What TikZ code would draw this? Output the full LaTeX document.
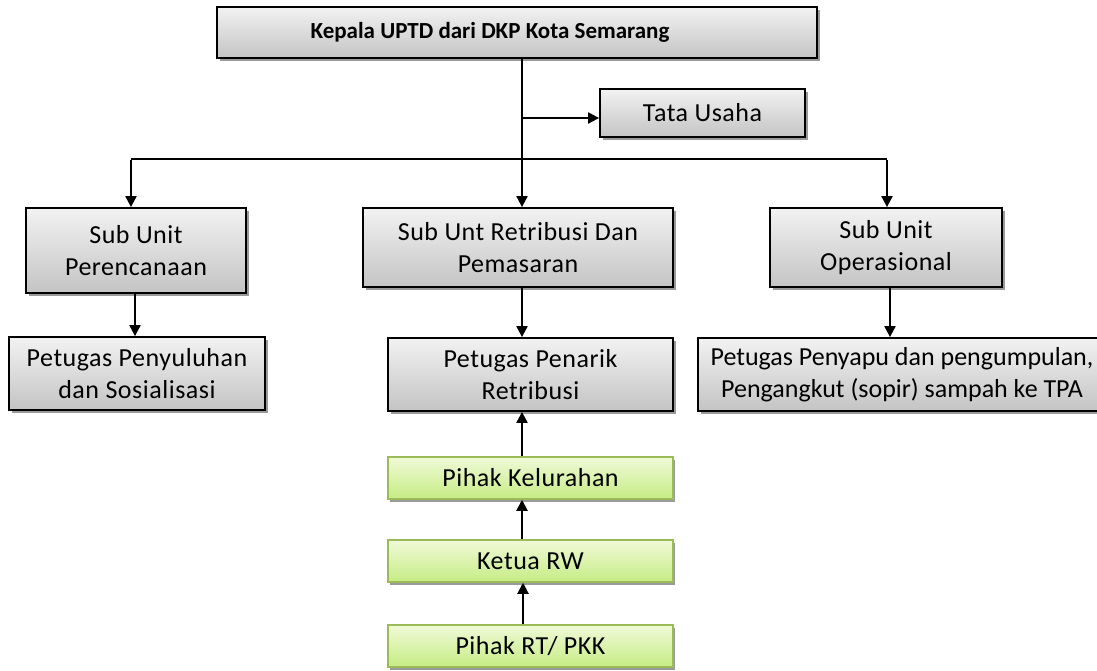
\documentclass[tikz,border=0pt]{standalone}
\usepackage{fontspec}
\setmainfont{Carlito}[LetterSpace=2]
\newfontfamily\titlefont{Carlito}
\usetikzlibrary{arrows.meta,shadows}
\definecolor{gtop}{HTML}{F2F2F2}
\definecolor{gbot}{HTML}{C4C4C4}
\definecolor{ltop}{HTML}{F0FAD8}
\definecolor{lbot}{HTML}{C6EC84}
\definecolor{lborder}{HTML}{9BBB59}
\definecolor{shd}{HTML}{9A9A9A}
\begin{document}
\begin{tikzpicture}[x=1pt,y=-1pt,
  graybox/.style={draw=black,line width=1.8pt,rectangle,align=center,inner sep=0pt,
    top color=gtop,bottom color=gbot,
    general shadow={fill=shd,shadow xshift=3pt,shadow yshift=-3pt},
    font=\fontsize{26}{32}\selectfont},
  greenbox/.style={draw=lborder,line width=1.5pt,rectangle,align=center,inner sep=0pt,
    top color=ltop,bottom color=lbot,
    general shadow={fill=shd,shadow xshift=2pt,shadow yshift=-3pt},
    font=\fontsize{26}{30}\selectfont,minimum width=285pt,minimum height=42pt},
  conn/.style={line width=2pt,-{Triangle[length=11pt,width=11pt]}},
  plain/.style={line width=2pt}]
\useasboundingbox (0,0) rectangle (1097,671);
\begin{scope}
\clip (0,0) rectangle (1097,671);
\node[graybox,minimum width=600pt,minimum height=51pt,font=\titlefont\fontsize{23}{28}\selectfont\bfseries] (top) at (517,32.5) {Kepala UPTD dari DKP Kota Semarang\hspace*{54pt}};
\node[graybox,minimum width=205pt,minimum height=48pt] (tata) at (702.5,113) {Tata Usaha};
\node[graybox,minimum width=220pt,minimum height=85pt] (perenc) at (136,250.5) {Sub Unit\\Perencanaan};
\node[graybox,minimum width=310pt,minimum height=79pt] (retrib) at (518,247.5) {Sub Unt Retribusi Dan\\Pemasaran};
\node[graybox,minimum width=232pt,minimum height=79pt] (oper) at (886,247.5) {Sub Unit\\Operasional};
\node[graybox,minimum width=256pt,minimum height=73pt] (penyul) at (137,373.5) {Petugas Penyuluhan\\dan Sosialisasi};
\node[graybox,minimum width=285pt,minimum height=73pt] (penarik) at (530.5,374.5) {Petugas Penarik\\Retribusi};
\node[graybox,minimum width=408pt,minimum height=73pt,font=\titlefont\fontsize{26}{32}\selectfont] (penyapu) at (902,374.5) {Petugas Penyapu dan pengumpulan,\\Pengangkut (sopir) sampah ke TPA};
\node[greenbox] (kel) at (530.5,478) {Pihak Kelurahan};
\node[greenbox] (rw) at (530.5,561) {Ketua RW};
\node[greenbox] (rt) at (530.5,646) {Pihak RT/ PKK};

\coordinate (mtop) at (522,58);
\coordinate (mtata) at (522,118);
\coordinate (hl) at (131,159);
\coordinate (hr) at (887,159);
\draw[conn] (mtop) -- (mtop |- retrib.north);
\draw[conn] (mtata) -- (mtata -| tata.west);
\draw[plain] (hl) -- (hr);
\draw[conn] ([yshift=-1pt]hl) -- (hl |- perenc.north);
\draw[conn] ([yshift=-1pt]hr) -- (hr |- oper.north);
\draw[conn] (perenc.south -| 135,0) -- (penyul.north -| 135,0);
\draw[conn] (retrib.south -| mtop) -- (penarik.north -| mtop);
\draw[conn] (oper.south -| 890,0) -- (penyapu.north -| 890,0);
\draw[conn] (kel.north -| mtop) -- (penarik.south -| mtop);
\draw[conn] (rw.north -| mtop) -- (kel.south -| mtop);
\draw[conn] (rt.north -| 523,0) -- (rw.south -| 523,0);
\end{scope}
\end{tikzpicture}
\end{document}
